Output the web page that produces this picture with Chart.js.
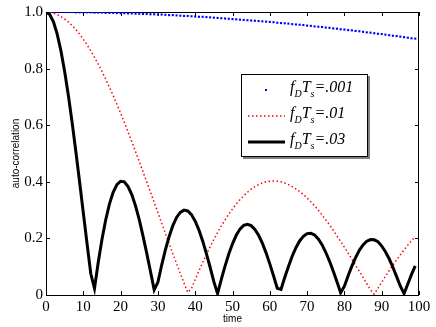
<!DOCTYPE html>
<html>
<head>
<meta charset="utf-8">
<script src="https://cdn.jsdelivr.net/npm/chart.js@4"></script>
<style>
  html, body { margin: 0; padding: 0; background: #fff; }
  canvas { display: block; }
</style>
</head>
<body>
<canvas id="acf" width="436" height="327"></canvas>
<script>
// sample lag index 0..99
const lags = Array.from({ length: 100 }, (_, k) => k);

const seriesLabels = ['f_DT_s=.001', 'f_DT_s=.01', 'f_DT_s=.03'];

// fD*Ts = .001 (blue dots)
const acf001 = [
  1.000, 1.000, 1.000, 1.000, 1.000, 1.000, 1.000, 1.000, 0.999, 0.999,
  0.999, 0.999, 0.999, 0.998, 0.998, 0.998, 0.997, 0.997, 0.997, 0.996,
  0.996, 0.996, 0.995, 0.995, 0.994, 0.994, 0.993, 0.993, 0.992, 0.992,
  0.991, 0.991, 0.990, 0.989, 0.989, 0.988, 0.987, 0.986, 0.986, 0.985,
  0.984, 0.983, 0.983, 0.982, 0.981, 0.980, 0.979, 0.978, 0.977, 0.976,
  0.975, 0.974, 0.973, 0.972, 0.971, 0.970, 0.969, 0.968, 0.967, 0.966,
  0.965, 0.964, 0.962, 0.961, 0.960, 0.959, 0.957, 0.956, 0.955, 0.954,
  0.952, 0.951, 0.949, 0.948, 0.947, 0.945, 0.944, 0.942, 0.941, 0.939,
  0.938, 0.936, 0.935, 0.933, 0.932, 0.930, 0.928, 0.927, 0.925, 0.923,
  0.922, 0.920, 0.918, 0.916, 0.915, 0.913, 0.911, 0.909, 0.907, 0.906
];

// fD*Ts = .01 (red dotted)
const acf01 = [
  1.000, 0.999, 0.996, 0.991, 0.984, 0.975, 0.965, 0.952, 0.938, 0.922,
  0.904, 0.884, 0.863, 0.840, 0.816, 0.790, 0.763, 0.734, 0.705, 0.674,
  0.643, 0.610, 0.576, 0.542, 0.507, 0.472, 0.436, 0.400, 0.364, 0.327,
  0.291, 0.254, 0.218, 0.182, 0.146, 0.111, 0.076, 0.042, 0.009, 0.023,
  0.055, 0.085, 0.115, 0.143, 0.170, 0.196, 0.221, 0.244, 0.265, 0.286,
  0.304, 0.321, 0.337, 0.351, 0.363, 0.374, 0.383, 0.390, 0.396, 0.400,
  0.402, 0.403, 0.402, 0.400, 0.396, 0.390, 0.383, 0.375, 0.366, 0.355,
  0.343, 0.329, 0.315, 0.300, 0.283, 0.266, 0.248, 0.229, 0.209, 0.189,
  0.169, 0.148, 0.127, 0.105, 0.084, 0.062, 0.040, 0.018, 0.003, 0.024,
  0.045, 0.066, 0.086, 0.105, 0.124, 0.142, 0.159, 0.176, 0.192, 0.206
];

// fD*Ts = .03 (black solid)
const acf03 = [
  1.000, 0.991, 0.965, 0.922, 0.863, 0.790, 0.705, 0.610, 0.507, 0.400,
  0.291, 0.182, 0.076, 0.023, 0.115, 0.196, 0.265, 0.321, 0.363, 0.390,
  0.402, 0.400, 0.383, 0.355, 0.315, 0.266, 0.209, 0.148, 0.084, 0.018,
  0.045, 0.105, 0.159, 0.206, 0.245, 0.274, 0.292, 0.300, 0.297, 0.284,
  0.261, 0.230, 0.191, 0.146, 0.098, 0.047, 0.005, 0.055, 0.102, 0.145,
  0.181, 0.211, 0.233, 0.246, 0.250, 0.245, 0.232, 0.211, 0.183, 0.149,
  0.110, 0.068, 0.024, 0.020, 0.062, 0.101, 0.137, 0.167, 0.191, 0.207,
  0.217, 0.218, 0.212, 0.198, 0.178, 0.151, 0.120, 0.085, 0.047, 0.008,
  0.031, 0.068, 0.102, 0.132, 0.158, 0.177, 0.190, 0.196, 0.195, 0.188,
  0.173, 0.153, 0.128, 0.098, 0.065, 0.031, 0.005, 0.039, 0.073, 0.103
];

const xTicks = [0, 10, 20, 30, 40, 50, 60, 70, 80, 90, 100];
const yTicks = [0, 0.2, 0.4, 0.6, 0.8, 1];

const serif = 'Liberation Serif';
const sans = 'Liberation Sans';

function points(vals) {
  return vals.map((v, i) => ({ x: lags[i], y: v }));
}

// box round the axes with inward ticks on all four sides (matlab style)
const axesBox = {
  id: 'axesBox',
  beforeDatasetsDraw(chart) {
    const { ctx, chartArea: a, scales: { x, y } } = chart;
    ctx.save();
    ctx.strokeStyle = '#000';
    ctx.lineWidth = 1;
    ctx.beginPath();
    xTicks.forEach(v => {
      const px = Math.round(x.getPixelForValue(v)) + 0.5;
      ctx.moveTo(px, a.bottom); ctx.lineTo(px, a.bottom - 4);
      ctx.moveTo(px, a.top); ctx.lineTo(px, a.top + 4);
    });
    yTicks.forEach(v => {
      const py = Math.round(y.getPixelForValue(v)) + 0.5;
      ctx.moveTo(a.left, py); ctx.lineTo(a.left + 4, py);
      ctx.moveTo(a.right, py); ctx.lineTo(a.right - 4, py);
    });
    ctx.stroke();
    ctx.strokeRect(Math.round(a.left) + 0.5, Math.round(a.top) + 0.5,
      Math.round(a.width) - 1, Math.round(a.height));
    ctx.restore();
  }
};

// label text with _x subscripts
function drawMathLabel(ctx, text, x, y) {
  const parts = text.split(/(_\w)/).filter(Boolean);
  parts.forEach(p => {
    if (p[0] === '_') {
      ctx.font = 'italic 10px ' + serif;
      ctx.fillText(p.slice(1), x, y + 5);
      x += ctx.measureText(p.slice(1)).width;
    } else {
      ctx.font = 'italic 16px ' + serif;
      ctx.fillText(p, x, y);
      x += ctx.measureText(p).width;
    }
  });
}

const mathLegend = {
  id: 'mathLegend',
  afterDraw(chart) {
    const ctx = chart.ctx;
    const bx = 241, by = 74, bw = 127, bh = 83;
    ctx.save();
    // shadow
    ctx.fillStyle = '#808080';
    ctx.fillRect(bx + 2, by + 2, bw, bh);
    ctx.fillStyle = '#fff';
    ctx.fillRect(bx, by, bw, bh);
    ctx.strokeStyle = '#000';
    ctx.lineWidth = 1;
    ctx.strokeRect(bx + 0.5, by + 0.5, bw - 1, bh - 1);

    const rows = [90, 116, 142];
    chart.data.datasets.forEach((ds, i) => {
      const ry = rows[i];
      if (ds.showLine === false) {
        ctx.fillStyle = ds.backgroundColor;
        ctx.fillRect(265, ry - 1, 2, 2);
      } else {
        ctx.strokeStyle = ds.borderColor;
        ctx.lineWidth = ds.borderWidth;
        ctx.setLineDash(ds.borderDash || []);
        ctx.beginPath();
        ctx.moveTo(248, ry);
        ctx.lineTo(285, ry);
        ctx.stroke();
        ctx.setLineDash([]);
      }
      ctx.fillStyle = '#000';
      ctx.textBaseline = 'alphabetic';
      ctx.textAlign = 'left';
      drawMathLabel(ctx, ds.label, 290, ry + 2);
    });
    ctx.restore();
  }
};

new Chart(document.getElementById('acf'), {
  type: 'line',
  data: {
    datasets: [
      {
        label: seriesLabels[0],
        data: points(acf001),
        showLine: false,
        pointStyle: 'rect',
        pointRadius: 1.5,
        backgroundColor: '#0000ff',
        borderColor: '#0000ff',
        borderWidth: 0,
        order: 3
      },
      {
        label: seriesLabels[1],
        data: points(acf01),
        borderColor: '#ff0000',
        borderWidth: 1.5,
        borderDash: [1.5, 2.5],
        pointRadius: 0,
        fill: false,
        order: 2
      },
      {
        label: seriesLabels[2],
        data: points(acf03),
        borderColor: '#000',
        borderWidth: 3,
        pointRadius: 0,
        fill: false,
        order: 1
      }
    ]
  },
  options: {
    responsive: false,
    animation: false,
    devicePixelRatio: 1,
    font: { family: serif },
    layout: { padding: { top: 10, right: 17, left: 0, bottom: 0 } },
    plugins: { legend: { display: false }, tooltip: { enabled: false } },
    scales: {
      x: {
        type: 'linear',
        min: 0,
        max: 100,
        afterBuildTicks: s => { s.ticks = xTicks.map(v => ({ value: v })); },
        afterFit: s => { s.height = 32; },
        grid: { display: false, drawTicks: false },
        border: { display: false },
        ticks: { color: '#000', font: { family: serif, size: 15 }, padding: 3, maxRotation: 0 },
        title: { display: true, text: 'time', color: '#000', font: { family: sans, size: 10 }, padding: { top: 0, bottom: 2 } }
      },
      y: {
        min: 0,
        max: 1,
        afterBuildTicks: s => { s.ticks = yTicks.map(v => ({ value: v })); },
        afterFit: s => { s.width = 46; },
        grid: { display: false, drawTicks: false },
        border: { display: false },
        ticks: { color: '#000', font: { family: serif, size: 15 }, padding: 3 },
        title: { display: true, text: 'auto-correlation', color: '#000', font: { family: sans, size: 10 }, padding: { top: 10, bottom: 0 } }
      }
    }
  },
  plugins: [axesBox, mathLegend]
});
</script>
</body>
</html>
